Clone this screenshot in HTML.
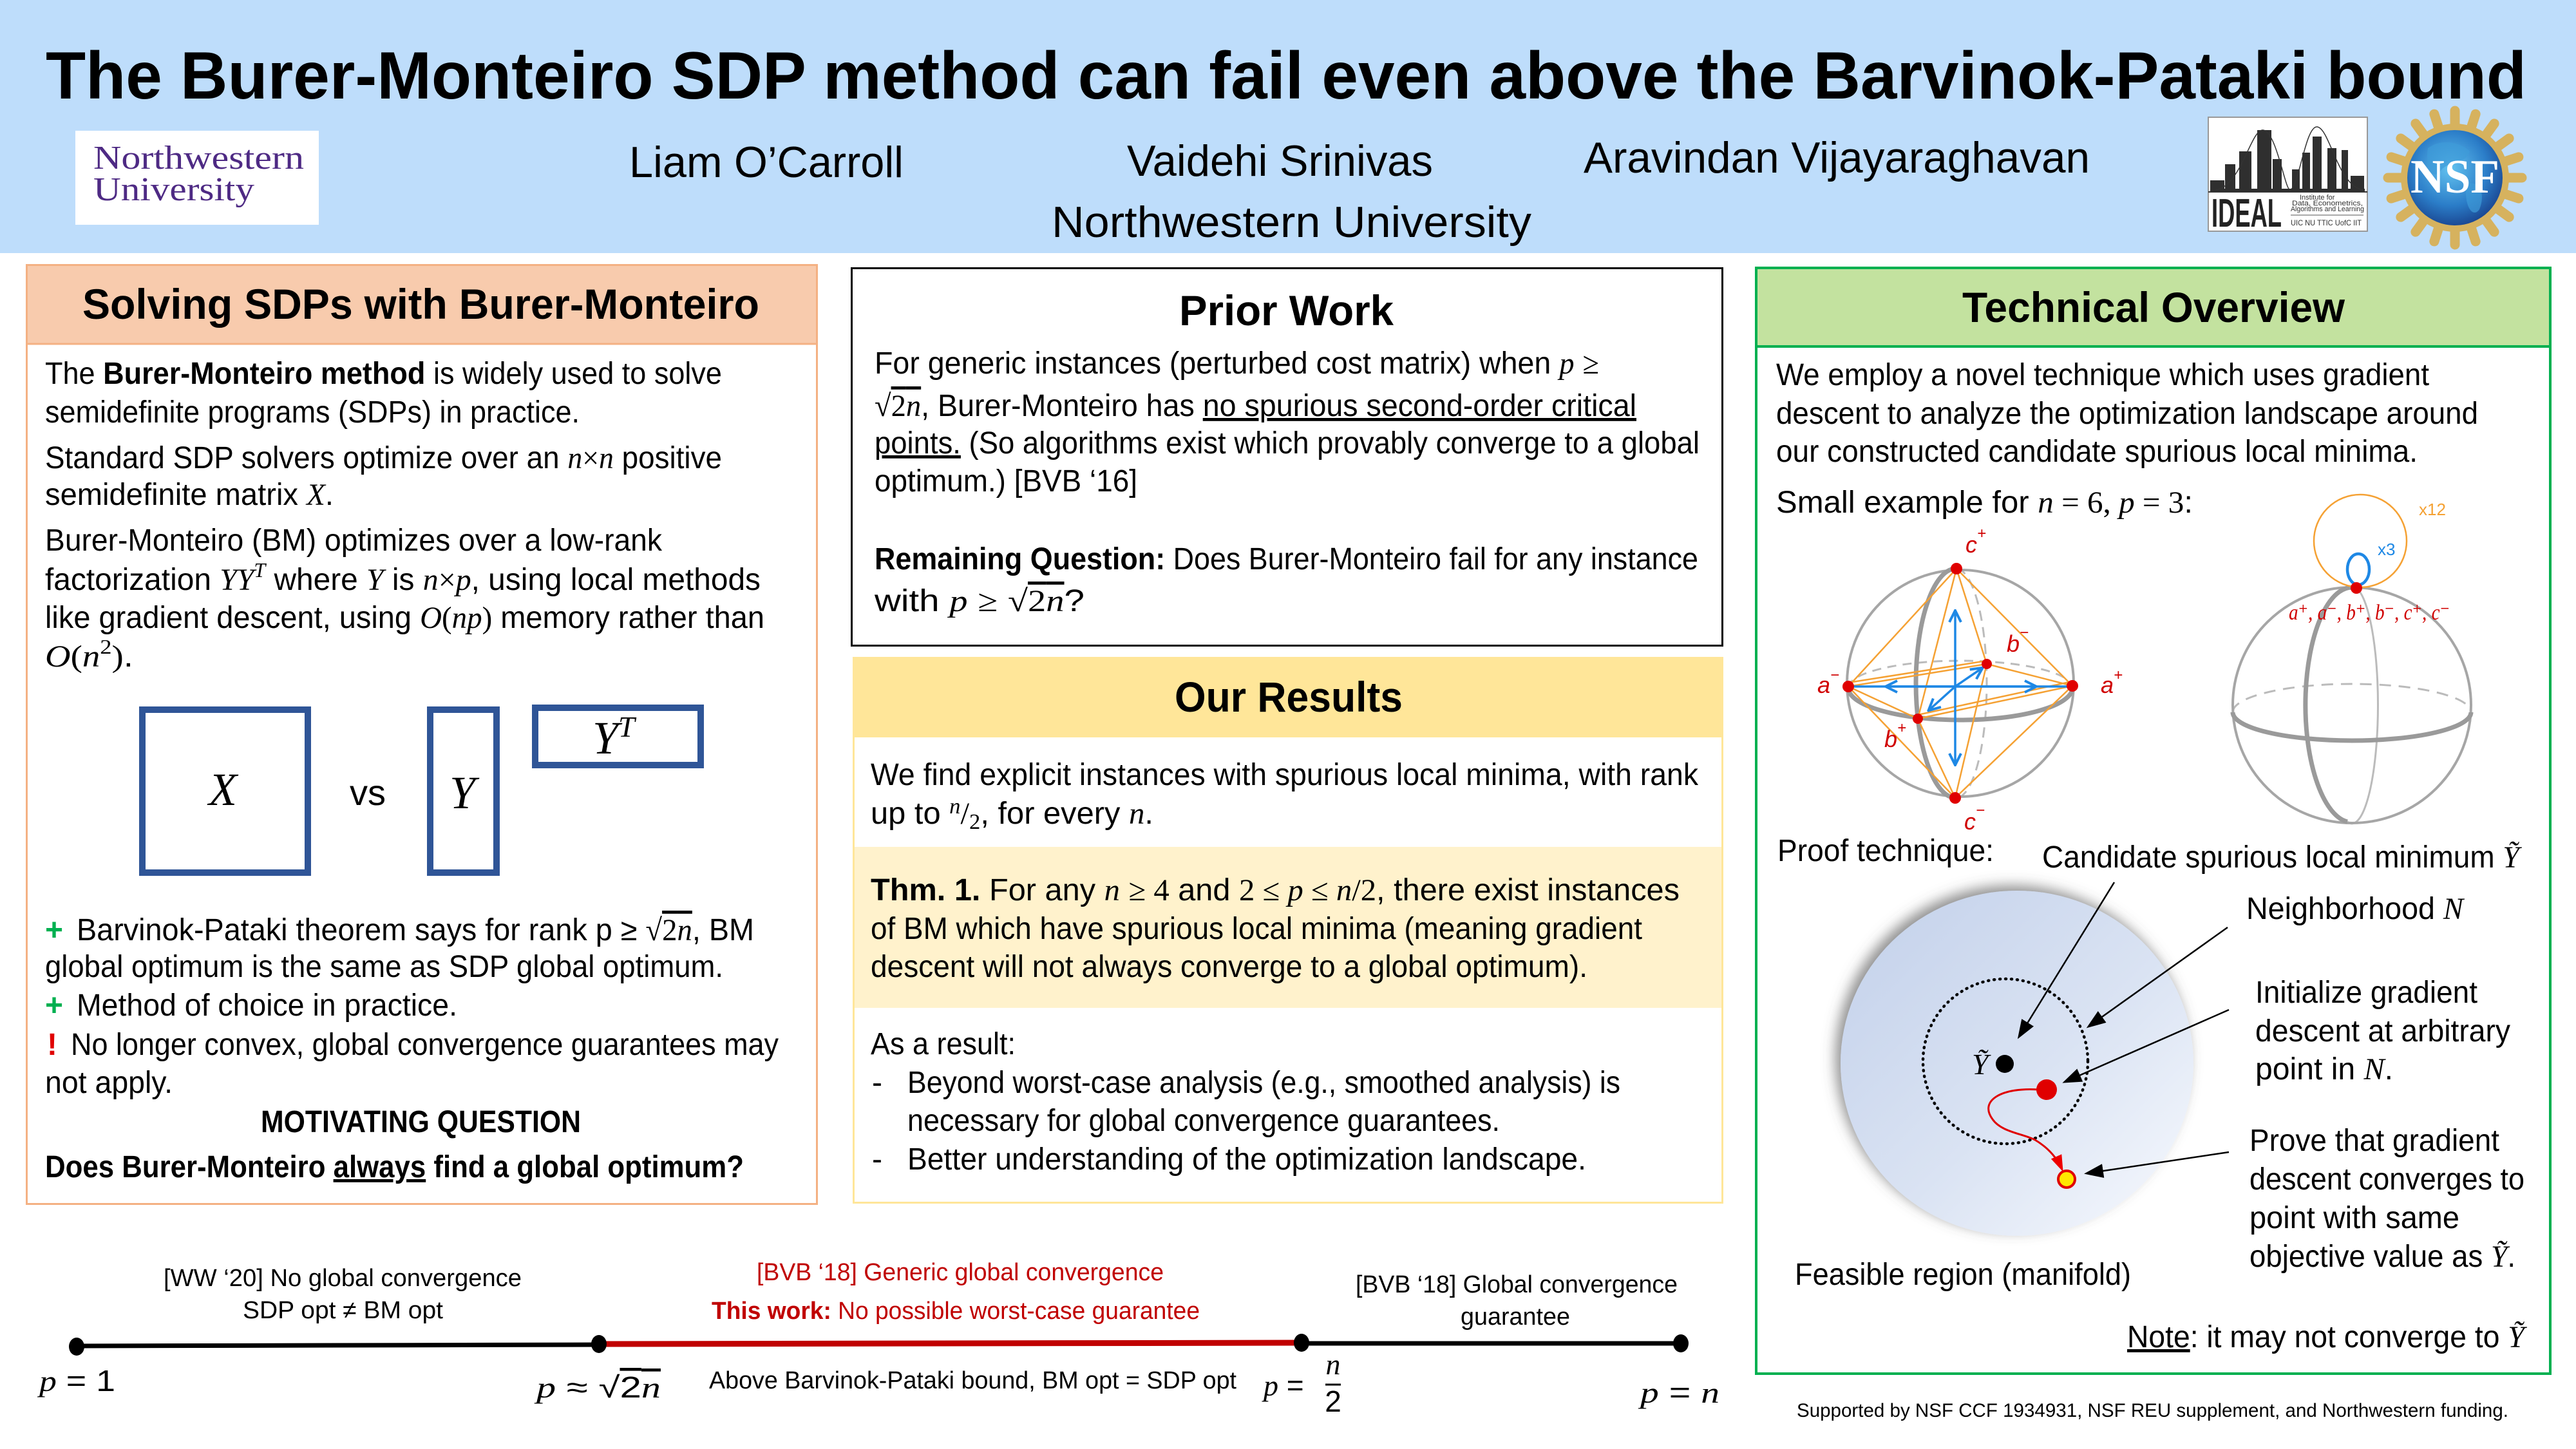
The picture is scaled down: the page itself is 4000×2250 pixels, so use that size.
<!DOCTYPE html>
<html><head><meta charset="utf-8"><style>
html,body{margin:0;padding:0;background:#fff;}
svg{display:block}
text{font-family:"Liberation Sans","DejaVu Sans",sans-serif}
.b{font-weight:bold}
.m{font-family:"Liberation Serif","DejaVu Serif",serif;font-style:italic}
.r{font-family:"Liberation Serif","DejaVu Serif",serif}
.u{text-decoration:underline}
</style></head><body>
<svg width="4000" height="2250" viewBox="0 0 4000 2250" xmlns="http://www.w3.org/2000/svg">
<defs>
 <linearGradient id="fr" x1="0" y1="0" x2="1" y2="1"><stop offset="0" stop-color="#C2D0EA"/><stop offset="0.55" stop-color="#DAE3F3"/><stop offset="1" stop-color="#F8FAFE"/></linearGradient>
 <radialGradient id="gl" cx="0.45" cy="0.4" r="0.65"><stop offset="0" stop-color="#63C3F0"/><stop offset="0.6" stop-color="#2B7DC8"/><stop offset="1" stop-color="#183F8A"/></radialGradient>
 <filter id="sh" x="-20%" y="-20%" width="140%" height="140%"><feDropShadow dx="-8" dy="-8" stdDeviation="10" flood-color="#555" flood-opacity="0.65"/></filter>
 <marker id="ah" markerUnits="userSpaceOnUse" markerWidth="30" markerHeight="30" refX="26" refY="15" orient="auto"><path d="M0,4 L30,15 L0,26 z" fill="#000"/></marker>
 <marker id="ahr" markerUnits="userSpaceOnUse" markerWidth="26" markerHeight="26" refX="22" refY="13" orient="auto"><path d="M0,4 L26,13 L0,22 z" fill="#E00"/></marker>
 <marker id="ahb" markerUnits="userSpaceOnUse" markerWidth="22" markerHeight="22" refX="18" refY="11" orient="auto"><path d="M2,2 L20,11 L2,20" fill="none" stroke="#1E88E5" stroke-width="4"/></marker>
</defs>

<!-- HEADER -->
<rect x="0" y="0" width="4000" height="393" fill="#BEDDFB"/>
<text x="71" y="153" font-size="104" class="b" textLength="3852" lengthAdjust="spacingAndGlyphs">The Burer-Monteiro SDP method can fail even above the Barvinok-Pataki bound</text>

<rect x="117" y="203" width="378" height="146" fill="#fff"/>
<text x="145" y="262" class="r" font-size="52" style="fill:#4E2A84" textLength="327" lengthAdjust="spacingAndGlyphs">Northwestern</text>
<text x="145" y="311" class="r" font-size="52" style="fill:#4E2A84" textLength="250" lengthAdjust="spacingAndGlyphs">University</text>

<text x="977" y="275" font-size="68" textLength="426" lengthAdjust="spacingAndGlyphs">Liam O’Carroll</text>
<text x="1750" y="273" font-size="68" textLength="475" lengthAdjust="spacingAndGlyphs">Vaidehi Srinivas</text>
<text x="2459" y="268" font-size="68" textLength="786" lengthAdjust="spacingAndGlyphs">Aravindan Vijayaraghavan</text>
<text x="1633" y="368" font-size="68" textLength="745" lengthAdjust="spacingAndGlyphs">Northwestern University</text>

<!-- IDEAL logo -->
<rect x="3429" y="182" width="247" height="177" fill="#fff" stroke="#999" stroke-width="2"/>
<g fill="#2f2f2f">
 <rect x="3432" y="280" width="22" height="17"/>
 <rect x="3455" y="255" width="16" height="42"/>
 <rect x="3477" y="235" width="19" height="62"/>
 <rect x="3505" y="202" width="22" height="95"/>
 <rect x="3529" y="247" width="14" height="50"/>
 <rect x="3559" y="263" width="12" height="34"/>
 <rect x="3575" y="237" width="12" height="60"/>
 <rect x="3591" y="212" width="14" height="85"/>
 <rect x="3614" y="230" width="14" height="67"/>
 <rect x="3636" y="233" width="10" height="64"/>
 <rect x="3650" y="273" width="21" height="24"/>
 <rect x="3432" y="293" width="240" height="4"/>
</g>
<path d="M3440,295 C3480,290 3495,200 3514,202 C3535,204 3548,295 3556,295 C3570,290 3580,195 3598,197 C3618,199 3630,290 3670,295" fill="none" stroke="#333" stroke-width="1.5"/>
<line x1="3429" y1="298" x2="3676" y2="298" stroke="#333" stroke-width="2"/>
<text x="3434" y="352" font-size="62" class="b" style="fill:#222" textLength="109" lengthAdjust="spacingAndGlyphs">IDEAL</text>
<text x="3571" y="310" font-size="11" style="fill:#333">Institute for</text>
<text x="3559" y="319" font-size="11" style="fill:#333" textLength="110" lengthAdjust="spacingAndGlyphs">Data, Econometrics,</text>
<text x="3557" y="328" font-size="11" style="fill:#333" textLength="114" lengthAdjust="spacingAndGlyphs">Algorithms and Learning</text>
<line x1="3557" y1="334" x2="3670" y2="334" stroke="#555" stroke-width="1"/>
<text x="3557" y="350" font-size="12" style="fill:#333" textLength="110" lengthAdjust="spacingAndGlyphs">UIC NU TTIC UofC IIT</text>

<!-- NSF logo -->
<g stroke="#D6B25E" stroke-width="15" stroke-linecap="round">
 <line x1="3812" y1="172" x2="3812" y2="236" transform="rotate(0 3812 276)"/>
 <line x1="3812" y1="172" x2="3812" y2="236" transform="rotate(18 3812 276)"/>
 <line x1="3812" y1="172" x2="3812" y2="236" transform="rotate(36 3812 276)"/>
 <line x1="3812" y1="172" x2="3812" y2="236" transform="rotate(54 3812 276)"/>
 <line x1="3812" y1="172" x2="3812" y2="236" transform="rotate(72 3812 276)"/>
 <line x1="3812" y1="172" x2="3812" y2="236" transform="rotate(90 3812 276)"/>
 <line x1="3812" y1="172" x2="3812" y2="236" transform="rotate(108 3812 276)"/>
 <line x1="3812" y1="172" x2="3812" y2="236" transform="rotate(126 3812 276)"/>
 <line x1="3812" y1="172" x2="3812" y2="236" transform="rotate(144 3812 276)"/>
 <line x1="3812" y1="172" x2="3812" y2="236" transform="rotate(162 3812 276)"/>
 <line x1="3812" y1="172" x2="3812" y2="236" transform="rotate(180 3812 276)"/>
 <line x1="3812" y1="172" x2="3812" y2="236" transform="rotate(198 3812 276)"/>
 <line x1="3812" y1="172" x2="3812" y2="236" transform="rotate(216 3812 276)"/>
 <line x1="3812" y1="172" x2="3812" y2="236" transform="rotate(234 3812 276)"/>
 <line x1="3812" y1="172" x2="3812" y2="236" transform="rotate(252 3812 276)"/>
 <line x1="3812" y1="172" x2="3812" y2="236" transform="rotate(270 3812 276)"/>
 <line x1="3812" y1="172" x2="3812" y2="236" transform="rotate(288 3812 276)"/>
 <line x1="3812" y1="172" x2="3812" y2="236" transform="rotate(306 3812 276)"/>
 <line x1="3812" y1="172" x2="3812" y2="236" transform="rotate(324 3812 276)"/>
 <line x1="3812" y1="172" x2="3812" y2="236" transform="rotate(342 3812 276)"/>
</g>
<circle cx="3812" cy="276" r="84" fill="#D6B25E"/>
<circle cx="3812" cy="276" r="74" fill="url(#gl)"/>
<path d="M3770,230 C3790,215 3820,220 3835,235 C3830,255 3800,250 3790,265 C3780,280 3765,265 3770,230 Z" fill="#3E9BD8" opacity="0.7"/>
<path d="M3830,285 C3850,280 3860,300 3850,325 C3840,340 3825,320 3830,285 Z" fill="#3E9BD8" opacity="0.7"/>
<text x="3743" y="299" class="r b" font-size="74" style="fill:#fff" textLength="138" lengthAdjust="spacingAndGlyphs">NSF</text>

<!-- LEFT PANEL -->
<rect x="41.5" y="411.5" width="1227" height="1458" fill="#fff" stroke="#F4B183" stroke-width="3"/>
<rect x="43" y="413" width="1224" height="121" fill="#F8CBAD"/>
<line x1="41" y1="534" x2="1269" y2="534" stroke="#F4B183" stroke-width="3"/>
<text x="128" y="495" font-size="66" class="b" textLength="1051" lengthAdjust="spacingAndGlyphs">Solving SDPs with Burer-Monteiro</text>

<g font-size="48">
<text x="70" y="596" textLength="1051" lengthAdjust="spacingAndGlyphs">The <tspan class="b">Burer-Monteiro method</tspan> is widely used to solve</text>
<text x="70" y="656" textLength="830" lengthAdjust="spacingAndGlyphs">semidefinite programs (SDPs) in practice.</text>
<text x="70" y="727" textLength="1051" lengthAdjust="spacingAndGlyphs">Standard SDP solvers optimize over an <tspan class="m">n</tspan><tspan class="r">×</tspan><tspan class="m">n</tspan> positive</text>
<text x="70" y="784" textLength="448" lengthAdjust="spacingAndGlyphs">semidefinite matrix <tspan class="m">X</tspan>.</text>
<text x="70" y="855" textLength="958" lengthAdjust="spacingAndGlyphs">Burer-Monteiro (BM) optimizes over a low-rank</text>
<text x="70" y="916" textLength="1111" lengthAdjust="spacingAndGlyphs">factorization <tspan class="m">YY</tspan><tspan class="m" font-size="32" dy="-20">T</tspan><tspan dy="20"> where </tspan><tspan class="m">Y</tspan> is <tspan class="m">n</tspan><tspan class="r">×</tspan><tspan class="m">p</tspan>, using local methods</text>
<text x="70" y="975" textLength="1117" lengthAdjust="spacingAndGlyphs">like gradient descent, using <tspan class="m">O</tspan><tspan class="r">(</tspan><tspan class="m">np</tspan><tspan class="r">)</tspan> memory rather than</text>
<text x="70" y="1035" textLength="137" lengthAdjust="spacingAndGlyphs"><tspan class="m">O</tspan><tspan class="r">(</tspan><tspan class="m">n</tspan><tspan class="r" font-size="32" dy="-20">2</tspan><tspan class="r" dy="20">)</tspan>.</text>
</g>

<rect x="221" y="1102" width="257" height="253" fill="none" stroke="#2F5597" stroke-width="10"/>
<text x="346" y="1250" class="m" font-size="72" text-anchor="middle">X</text>
<text x="543" y="1250" font-size="56" textLength="56" lengthAdjust="spacingAndGlyphs">vs</text>
<rect x="668" y="1102" width="103" height="253" fill="none" stroke="#2F5597" stroke-width="10"/>
<text x="718" y="1255" class="m" font-size="72" text-anchor="middle">Y</text>
<rect x="831" y="1099" width="257" height="89" fill="none" stroke="#2F5597" stroke-width="10"/>
<text x="920" y="1170" class="m" font-size="72">Y<tspan font-size="46" dy="-26">T</tspan></text>

<g font-size="48">
<text x="70" y="1460" class="b" style="fill:#00B050">+</text>
<text x="119" y="1460" textLength="1052" lengthAdjust="spacingAndGlyphs">Barvinok-Pataki theorem says for rank p ≥ <tspan class="r">√</tspan><tspan class="r" style="text-decoration:overline">2<tspan class="m">n</tspan></tspan>, BM</text>
<text x="70" y="1517" textLength="1053" lengthAdjust="spacingAndGlyphs">global optimum is the same as SDP global optimum.</text>
<text x="70" y="1577" class="b" style="fill:#00B050">+</text>
<text x="119" y="1577" textLength="591" lengthAdjust="spacingAndGlyphs">Method of choice in practice.</text>
<text x="73" y="1638" class="b" style="fill:#E00000">!</text>
<text x="110" y="1638" textLength="1099" lengthAdjust="spacingAndGlyphs">No longer convex, global convergence guarantees may</text>
<text x="70" y="1697" textLength="198" lengthAdjust="spacingAndGlyphs">not apply.</text>
<text x="405" y="1758" class="b" textLength="497" lengthAdjust="spacingAndGlyphs">MOTIVATING QUESTION</text>
<text x="70" y="1828" class="b" textLength="1085" lengthAdjust="spacingAndGlyphs">Does Burer-Monteiro <tspan class="u">always</tspan> find a global optimum?</text>
</g>

<!-- PRIOR WORK -->
<rect x="1322.5" y="416.5" width="1352" height="586" fill="#fff" stroke="#000" stroke-width="3"/>
<text x="1831" y="505" font-size="66" class="b" textLength="333" lengthAdjust="spacingAndGlyphs">Prior Work</text>
<g font-size="48">
<text x="1358" y="580" textLength="1125" lengthAdjust="spacingAndGlyphs">For generic instances (perturbed cost matrix) when <tspan class="m">p</tspan> <tspan class="r">≥</tspan></text>
<text x="1358" y="646" textLength="1183" lengthAdjust="spacingAndGlyphs"><tspan class="r">√</tspan><tspan class="r" style="text-decoration:overline">2<tspan class="m">n</tspan></tspan>, Burer-Monteiro has <tspan class="u">no spurious second-order critical</tspan></text>
<text x="1358" y="704" textLength="1281" lengthAdjust="spacingAndGlyphs"><tspan class="u">points.</tspan> (So algorithms exist which provably converge to a global</text>
<text x="1358" y="763" textLength="408" lengthAdjust="spacingAndGlyphs">optimum.) [BVB ‘16]</text>
<text x="1358" y="884" textLength="1279" lengthAdjust="spacingAndGlyphs"><tspan class="b">Remaining Question:</tspan> Does Burer-Monteiro fail for any instance</text>
<text x="1358" y="949" textLength="326" lengthAdjust="spacingAndGlyphs">with <tspan class="m">p</tspan>  <tspan class="r">≥</tspan>  <tspan class="r">√</tspan><tspan class="r" style="text-decoration:overline">2<tspan class="m">n</tspan></tspan>?</text>
</g>

<!-- OUR RESULTS -->
<rect x="1325.5" y="1021.5" width="1349" height="846" fill="#fff" stroke="#FFE699" stroke-width="3"/>
<rect x="1327" y="1023" width="1346" height="122" fill="#FFE699"/>
<rect x="1327" y="1315" width="1346" height="250" fill="#FFF2CC"/>
<text x="1824" y="1105" font-size="66" class="b" textLength="354" lengthAdjust="spacingAndGlyphs">Our Results</text>
<g font-size="48">
<text x="1352" y="1219" textLength="1285" lengthAdjust="spacingAndGlyphs">We find explicit instances with spurious local minima, with rank</text>
<text x="1352" y="1279" textLength="439" lengthAdjust="spacingAndGlyphs">up to <tspan class="m" font-size="34" dy="-16">n</tspan><tspan class="r" dy="16">/</tspan><tspan class="r" font-size="34" dy="8">2</tspan><tspan dy="-8">, for every </tspan><tspan class="m">n</tspan>.</text>
<text x="1352" y="1398" textLength="1256" lengthAdjust="spacingAndGlyphs"><tspan class="b">Thm. 1.</tspan> For any <tspan class="m">n</tspan> <tspan class="r">≥ 4</tspan> and <tspan class="r">2 ≤ </tspan><tspan class="m">p</tspan><tspan class="r"> ≤ </tspan><tspan class="m">n</tspan><tspan class="r">/2</tspan>, there exist instances</text>
<text x="1352" y="1458" textLength="1198" lengthAdjust="spacingAndGlyphs">of BM which have spurious local minima (meaning gradient</text>
<text x="1352" y="1517" textLength="1113" lengthAdjust="spacingAndGlyphs">descent will not always converge to a global optimum).</text>
<text x="1352" y="1637" textLength="225" lengthAdjust="spacingAndGlyphs">As a result:</text>
<text x="1354" y="1697">-</text>
<text x="1409" y="1697" textLength="1107" lengthAdjust="spacingAndGlyphs">Beyond worst-case analysis (e.g., smoothed analysis) is</text>
<text x="1409" y="1756" textLength="920" lengthAdjust="spacingAndGlyphs">necessary for global convergence guarantees.</text>
<text x="1354" y="1816">-</text>
<text x="1409" y="1816" textLength="1054" lengthAdjust="spacingAndGlyphs">Better understanding of the optimization landscape.</text>
</g>

<!-- RIGHT PANEL -->
<rect x="2727" y="416" width="1233" height="1717" fill="#fff" stroke="#00B050" stroke-width="4"/>
<rect x="2729" y="418" width="1229" height="120" fill="#C3E29F"/>
<line x1="2727" y1="538" x2="3960" y2="538" stroke="#00B050" stroke-width="4"/>
<text x="3047" y="500" font-size="66" class="b" textLength="594" lengthAdjust="spacingAndGlyphs">Technical Overview</text>
<g font-size="48">
<text x="2758" y="598" textLength="1014" lengthAdjust="spacingAndGlyphs">We employ a novel technique which uses gradient</text>
<text x="2758" y="658" textLength="1090" lengthAdjust="spacingAndGlyphs">descent to analyze the optimization landscape around</text>
<text x="2758" y="717" textLength="996" lengthAdjust="spacingAndGlyphs">our constructed candidate spurious local minima.</text>
<text x="2758" y="796" textLength="647" lengthAdjust="spacingAndGlyphs">Small example for <tspan class="m">n</tspan><tspan class="r"> = 6, </tspan><tspan class="m">p</tspan><tspan class="r"> = 3</tspan>:</text>
</g>

<!-- Sphere 1 -->
<g fill="none">
 <path d="M2870,1068 A174,42 0 0 1 3218,1068" stroke="#BBB" stroke-width="3" stroke-dasharray="14 10"/>
 <path d="M3038,883 A48,178 0 0 1 3036,1239" stroke="#BBB" stroke-width="3" stroke-dasharray="16 10"/>
 <circle cx="3044" cy="1061" r="176" stroke="#A6A6A6" stroke-width="4"/>
 <path d="M2870,1068 A174,50 0 0 0 3218,1068" stroke="#9A9A9A" stroke-width="7"/>
 <path d="M3038,883 A62,178 0 0 0 3036,1239" stroke="#9A9A9A" stroke-width="7"/>
 <g stroke="#F5A133" stroke-width="2.5">
  <line x1="3038" y1="883" x2="2870" y2="1066"/>
  <line x1="3038" y1="883" x2="3218" y2="1065"/>
  <line x1="3038" y1="883" x2="3085" y2="1031"/>
  <line x1="3038" y1="883" x2="2978" y2="1116"/>
  <line x1="3036" y1="1239" x2="2870" y2="1066"/>
  <line x1="3036" y1="1239" x2="3218" y2="1065"/>
  <line x1="3036" y1="1239" x2="3085" y2="1031"/>
  <line x1="3036" y1="1239" x2="2978" y2="1116"/>
  <line x1="2870" y1="1066" x2="2978" y2="1116"/>
  <line x1="2978" y1="1116" x2="3218" y2="1065"/>
  <line x1="3218" y1="1065" x2="3085" y2="1031"/>
  <line x1="3085" y1="1031" x2="2870" y2="1066"/>
  <line x1="2870" y1="1060" x2="3085" y2="1026"/>
  <line x1="2978" y1="1110" x2="3218" y2="1058"/>
 </g>
 <g stroke="#1E88E5" stroke-width="3.5">
  <line x1="3036" y1="1066" x2="3036" y2="950" marker-end="url(#ahb)"/>
  <line x1="3036" y1="1066" x2="3036" y2="1186" marker-end="url(#ahb)"/>
  <line x1="3036" y1="1066" x2="2878" y2="1066"/>
  <line x1="3036" y1="1066" x2="2930" y2="1066" marker-end="url(#ahb)"/>
  <line x1="3036" y1="1066" x2="3160" y2="1066" marker-end="url(#ahb)"/>
  <line x1="3036" y1="1066" x2="3210" y2="1066"/>
  <line x1="3036" y1="1066" x2="2996" y2="1102" marker-end="url(#ahb)"/>
  <line x1="3036" y1="1066" x2="3077" y2="1038" marker-end="url(#ahb)"/>
 </g>
</g>
<g fill="#E00000">
 <circle cx="3038" cy="883" r="9"/><circle cx="3036" cy="1239" r="9"/>
 <circle cx="2870" cy="1066" r="9"/><circle cx="3218" cy="1065" r="9"/>
 <circle cx="3085" cy="1031" r="8"/><circle cx="2978" cy="1116" r="8"/>
</g>
<g class="m" font-size="36" style="fill:#D00000">
 <text x="3052" y="858">c<tspan font-size="24" dy="-22">+</tspan></text>
 <text x="3050" y="1288">c<tspan font-size="24" dy="-22">−</tspan></text>
 <text x="2822" y="1076">a<tspan font-size="24" dy="-20">−</tspan></text>
 <text x="3262" y="1076">a<tspan font-size="24" dy="-20">+</tspan></text>
 <text x="3116" y="1012">b<tspan font-size="24" dy="-22">−</tspan></text>
 <text x="2926" y="1160">b<tspan font-size="24" dy="-22">+</tspan></text>
</g>

<!-- Sphere 2 -->
<g fill="none">
 <path d="M3467,1106 A185,44 0 0 1 3837,1106" stroke="#BBB" stroke-width="3" stroke-dasharray="18 12"/>
 <path d="M3659,913 A40,182 0 0 1 3645,1276" stroke="#BBB" stroke-width="3"/>
 <ellipse cx="3652" cy="1095" rx="185" ry="183" stroke="#A6A6A6" stroke-width="4"/>
 <path d="M3467,1106 A185,44 0 0 0 3837,1106" stroke="#9A9A9A" stroke-width="7"/>
 <path d="M3659,913 A72,182 0 0 0 3645,1276" stroke="#9A9A9A" stroke-width="7"/>
 <circle cx="3665" cy="840" r="72" stroke="#F5A133" stroke-width="2.5"/>
 <ellipse cx="3662" cy="884" rx="17" ry="24" stroke="#1E88E5" stroke-width="4.5"/>
</g>
<circle cx="3659" cy="913" r="9" fill="#E00000"/>
<text x="3756" y="800" font-size="26" style="fill:#F5A133">x12</text>
<text x="3692" y="862" font-size="26" style="fill:#1E88E5">x3</text>
<text x="3554" y="962" class="m" font-size="34" style="fill:#D00000" textLength="250" lengthAdjust="spacingAndGlyphs">a⁺, a⁻, b⁺, b⁻, c⁺, c⁻</text>

<!-- Proof technique -->
<g font-size="48">
<text x="2760" y="1337" textLength="336" lengthAdjust="spacingAndGlyphs">Proof technique:</text>
<text x="3171" y="1347" textLength="741" lengthAdjust="spacingAndGlyphs">Candidate spurious local minimum <tspan class="m">Ỹ</tspan></text>
<text x="3488" y="1427" textLength="337" lengthAdjust="spacingAndGlyphs">Neighborhood <tspan class="m">N</tspan></text>
<text x="3502" y="1557" textLength="345" lengthAdjust="spacingAndGlyphs">Initialize gradient</text>
<text x="3502" y="1617" textLength="396" lengthAdjust="spacingAndGlyphs">descent at arbitrary</text>
<text x="3502" y="1676" textLength="214" lengthAdjust="spacingAndGlyphs">point in <tspan class="m">N</tspan>.</text>
<text x="3493" y="1787" textLength="388" lengthAdjust="spacingAndGlyphs">Prove that gradient</text>
<text x="3493" y="1847" textLength="427" lengthAdjust="spacingAndGlyphs">descent converges to</text>
<text x="3493" y="1907" textLength="326" lengthAdjust="spacingAndGlyphs">point with same</text>
<text x="3493" y="1967" textLength="413" lengthAdjust="spacingAndGlyphs">objective value as <tspan class="m">Ỹ</tspan>.</text>
<text x="2787" y="1995" textLength="522" lengthAdjust="spacingAndGlyphs">Feasible region (manifold)</text>
<text x="3303" y="2092" textLength="617" lengthAdjust="spacingAndGlyphs"><tspan class="u">Note</tspan>: it may not converge to <tspan class="m">Ỹ</tspan></text>
</g>

<ellipse cx="3132" cy="1651" rx="274" ry="268" fill="url(#fr)" filter="url(#sh)"/>
<circle cx="3114" cy="1648" r="128" fill="none" stroke="#000" stroke-width="4.5" stroke-dasharray="1 8" stroke-linecap="round"/>
<circle cx="3113" cy="1652" r="14" fill="#000"/>
<text x="3062" y="1668" class="m" font-size="46">Ỹ</text>
<path d="M3166,1692 C3110,1688 3072,1708 3094,1738 C3108,1758 3140,1760 3160,1770 C3180,1782 3194,1798 3202,1816" fill="none" stroke="#E00000" stroke-width="3" marker-end="url(#ahr)"/>
<circle cx="3178" cy="1692" r="16" fill="#E00000"/>
<circle cx="3209" cy="1831" r="13" fill="#FFE800" stroke="#E00000" stroke-width="4"/>
<g stroke="#000" stroke-width="2.5" fill="none">
 <line x1="3283" y1="1370" x2="3135" y2="1610" marker-end="url(#ah)"/>
 <line x1="3459" y1="1440" x2="3243" y2="1594" marker-end="url(#ah)"/>
 <line x1="3461" y1="1568" x2="3206" y2="1680" marker-end="url(#ah)"/>
 <line x1="3461" y1="1789" x2="3240" y2="1822" marker-end="url(#ah)"/>
</g>

<text x="2790" y="2200" font-size="30" textLength="1105" lengthAdjust="spacingAndGlyphs">Supported by NSF CCF 1934931, NSF REU supplement, and Northwestern funding.</text>

<!-- TIMELINE -->
<line x1="119" y1="2090" x2="930" y2="2088" stroke="#000" stroke-width="7"/>
<line x1="930" y1="2087" x2="2021" y2="2085" stroke="#C00000" stroke-width="9"/>
<line x1="2021" y1="2086" x2="2610" y2="2086" stroke="#000" stroke-width="7"/>
<ellipse cx="119" cy="2091" rx="12" ry="14" fill="#000"/>
<ellipse cx="930" cy="2087" rx="12" ry="14" fill="#000"/>
<ellipse cx="2021" cy="2085" rx="12" ry="14" fill="#000"/>
<ellipse cx="2610" cy="2086" rx="12" ry="14" fill="#000"/>

<g font-size="38">
<text x="254" y="1997" textLength="556" lengthAdjust="spacingAndGlyphs">[WW ‘20] No global convergence</text>
<text x="377" y="2047" textLength="311" lengthAdjust="spacingAndGlyphs">SDP opt ≠ BM opt</text>
<text x="1175" y="1988" style="fill:#C00000" textLength="632" lengthAdjust="spacingAndGlyphs">[BVB ‘18] Generic global convergence</text>
<text x="1105" y="2048" style="fill:#C00000" textLength="758" lengthAdjust="spacingAndGlyphs"><tspan class="b">This work:</tspan> No possible worst-case guarantee</text>
<text x="2105" y="2007" textLength="500" lengthAdjust="spacingAndGlyphs">[BVB ‘18] Global convergence</text>
<text x="2268" y="2057" textLength="170" lengthAdjust="spacingAndGlyphs">guarantee</text>
<text x="1101" y="2156" textLength="819" lengthAdjust="spacingAndGlyphs">Above Barvinok-Pataki bound, BM opt = SDP opt</text>
</g>
<g font-size="46" class="r">
<text x="61" y="2160" textLength="118" lengthAdjust="spacingAndGlyphs"><tspan class="m">p</tspan> = 1</text>
<text x="833" y="2170" textLength="193" lengthAdjust="spacingAndGlyphs"><tspan class="m">p</tspan> ≈ √<tspan style="text-decoration:overline">2<tspan class="m">n</tspan></tspan></text>
<text x="1962" y="2167"><tspan class="m">p</tspan> =</text>
<text x="2070" y="2134" class="m" text-anchor="middle">n</text>
<line x1="2058" y1="2150" x2="2082" y2="2150" stroke="#000" stroke-width="3"/>
<text x="2070" y="2192" text-anchor="middle">2</text>
<text x="2547" y="2178" textLength="123" lengthAdjust="spacingAndGlyphs"><tspan class="m">p</tspan> = <tspan class="m">n</tspan></text>
</g>
</svg>
</body></html>
